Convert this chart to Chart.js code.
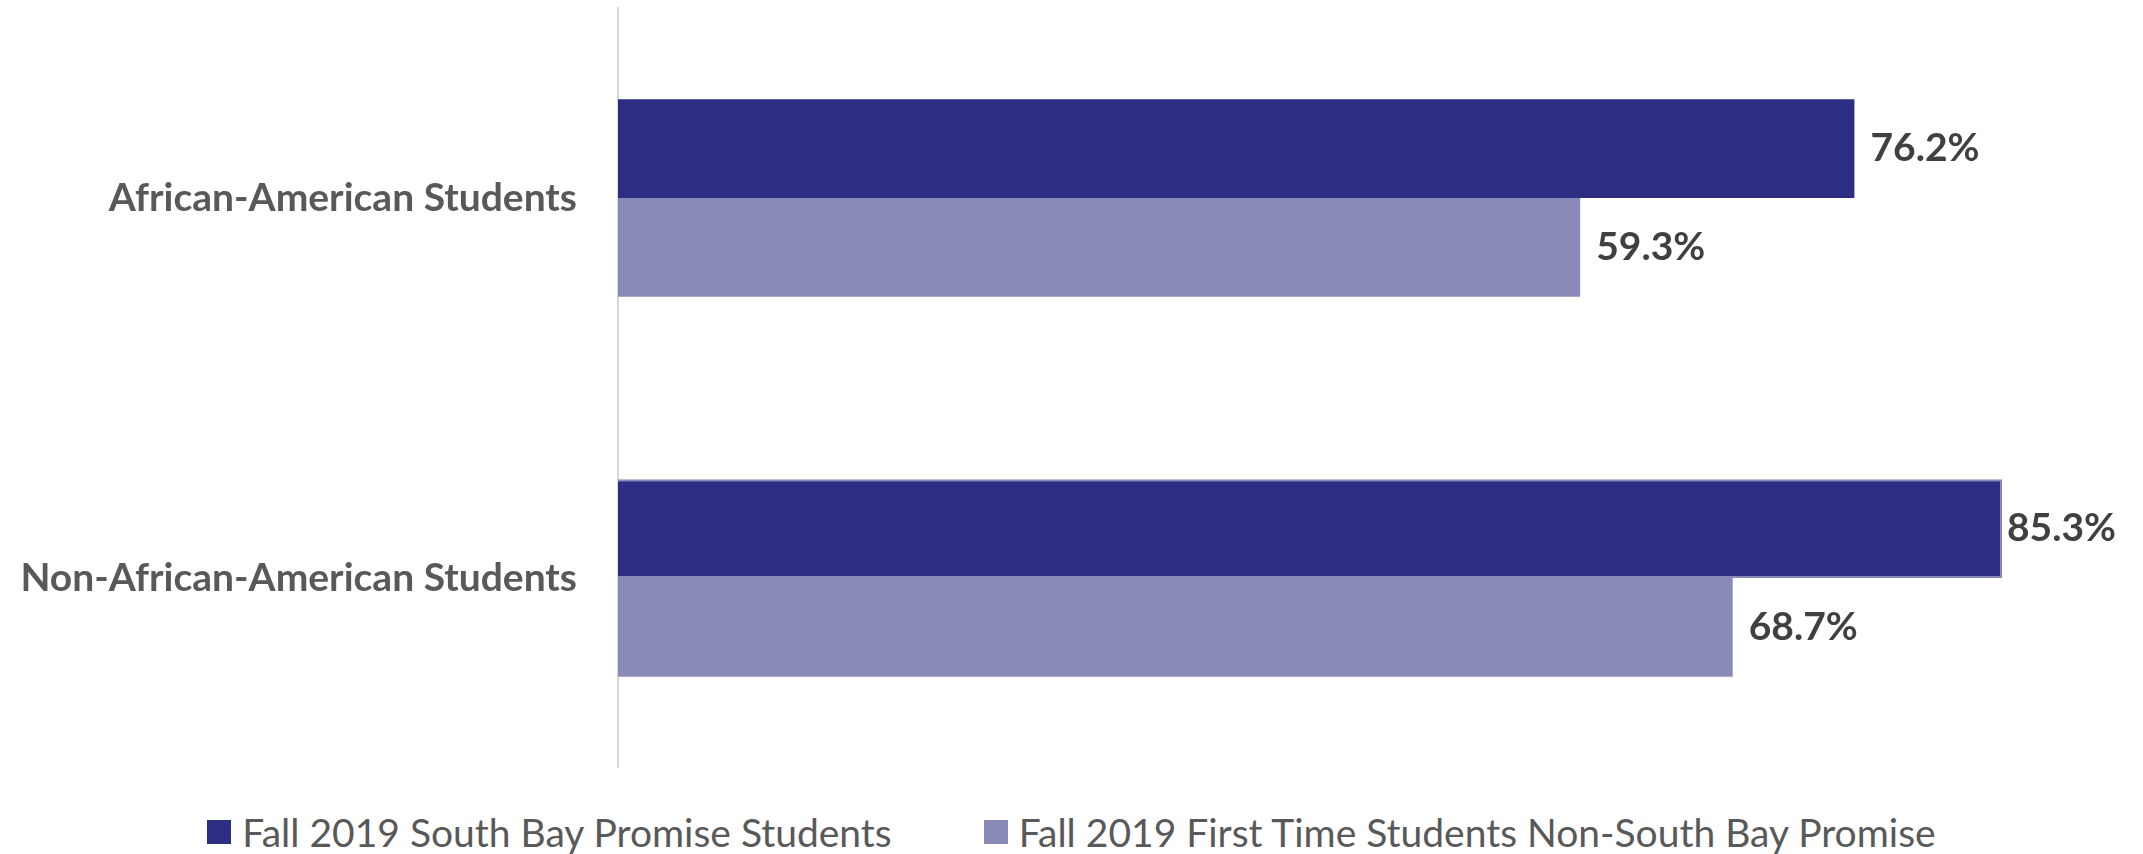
<!DOCTYPE html>
<html>
<head>
<meta charset="utf-8">
<script src="https://cdn.jsdelivr.net/npm/chart.js@4.4.1/dist/chart.umd.min.js"></script>
<style>
  html, body { margin: 0; padding: 0; background: #fff; }
  #box { width: 2143px; height: 768px; position: relative; }
  #legend {
    width: 2143px; height: 86px; box-sizing: border-box; padding-top: 42px;
    display: flex; justify-content: center; align-items: center; gap: 92px;
    font-family: Lato, sans-serif; font-size: 39px; color: #595959;
  }
  #legend .item { display: flex; align-items: center; white-space: nowrap; }
  #legend .swatch { width: 24px; height: 24px; margin-right: 11px; }
</style>
</head>
<body>
<div id="box"><canvas id="chart"></canvas></div>
<div id="legend"></div>
<script>
// Datos
const categories = ['African-American Students', 'Non-African-American Students'];
const seriesNames = ['Fall 2019 South Bay Promise Students', 'Fall 2019 First Time Students Non-South Bay Promise'];
const promiseStudents = [76.2, 85.3];
const nonPromiseStudents = [59.3, 68.7];
const colors = ['#2e2d84', '#8a8ab8'];

Chart.defaults.font.family = 'Lato, sans-serif';

// Etiquetas de valor al final de cada barra
const valueLabels = {
    id: 'valueLabels',
    afterDatasetsDraw(chart) {
        const ctx = chart.ctx;
        ctx.save();
        ctx.font = 'bold 39px Lato, sans-serif';
        ctx.fillStyle = '#404040';
        ctx.textBaseline = 'middle';
        chart.data.datasets.forEach((ds, i) => {
            chart.getDatasetMeta(i).data.forEach((bar, j) => {
                const text = ds.data[j].toFixed(1) + '%';
                const w = ctx.measureText(text).width;
                const x = Math.min(bar.x + 16, chart.width - 27 - w);
                ctx.fillText(text, x, bar.y);
            });
        });
        ctx.restore();
    }
};

const ctx = document.getElementById('chart').getContext('2d');
const chart = new Chart(ctx, {
    type: 'bar',
    data: {
        labels: categories,
        datasets: [{
            label: seriesNames[0],
            data: promiseStudents,
            backgroundColor: colors[0],
            borderColor: ['rgba(0,0,0,0)', colors[1]],
            borderWidth: [0, 2],
            categoryPercentage: 0.52,
            barPercentage: 1.0
        }, {
            label: seriesNames[1],
            data: nonPromiseStudents,
            backgroundColor: colors[1],
            categoryPercentage: 0.52,
            barPercentage: 1.0
        }]
    },
    options: {
        indexAxis: 'y',
        responsive: true,
        maintainAspectRatio: false,
        animation: false,
        layout: { padding: { top: 8, right: 16, bottom: 0, left: 0 } },
        plugins: {
            legend: { display: false },
            tooltip: { enabled: false }
        },
        scales: {
            x: { display: false, min: 0, max: 93 },
            y: {
                grid: { display: false, drawTicks: false },
                border: { display: true, color: '#d9d9d9', width: 2 },
                ticks: {
                    padding: 41,
                    color: '#595959',
                    font: { size: 39, weight: 'bold' }
                },
                afterFit(scale) {
                    scale.width = 618;
                    // sin margen extra arriba/abajo por las etiquetas
                    scale.paddingTop = 0;
                    scale.paddingBottom = 0;
                }
            }
        }
    },
    plugins: [valueLabels]
});

// Leyenda en HTML
const legend = document.getElementById('legend');
seriesNames.forEach((name, i) => {
    const item = document.createElement('div');
    item.className = 'item';
    item.innerHTML = '<span class="swatch" style="background:' + colors[i] + '"></span><span>' + name + '</span>';
    legend.appendChild(item);
});
</script>
</body>
</html>
